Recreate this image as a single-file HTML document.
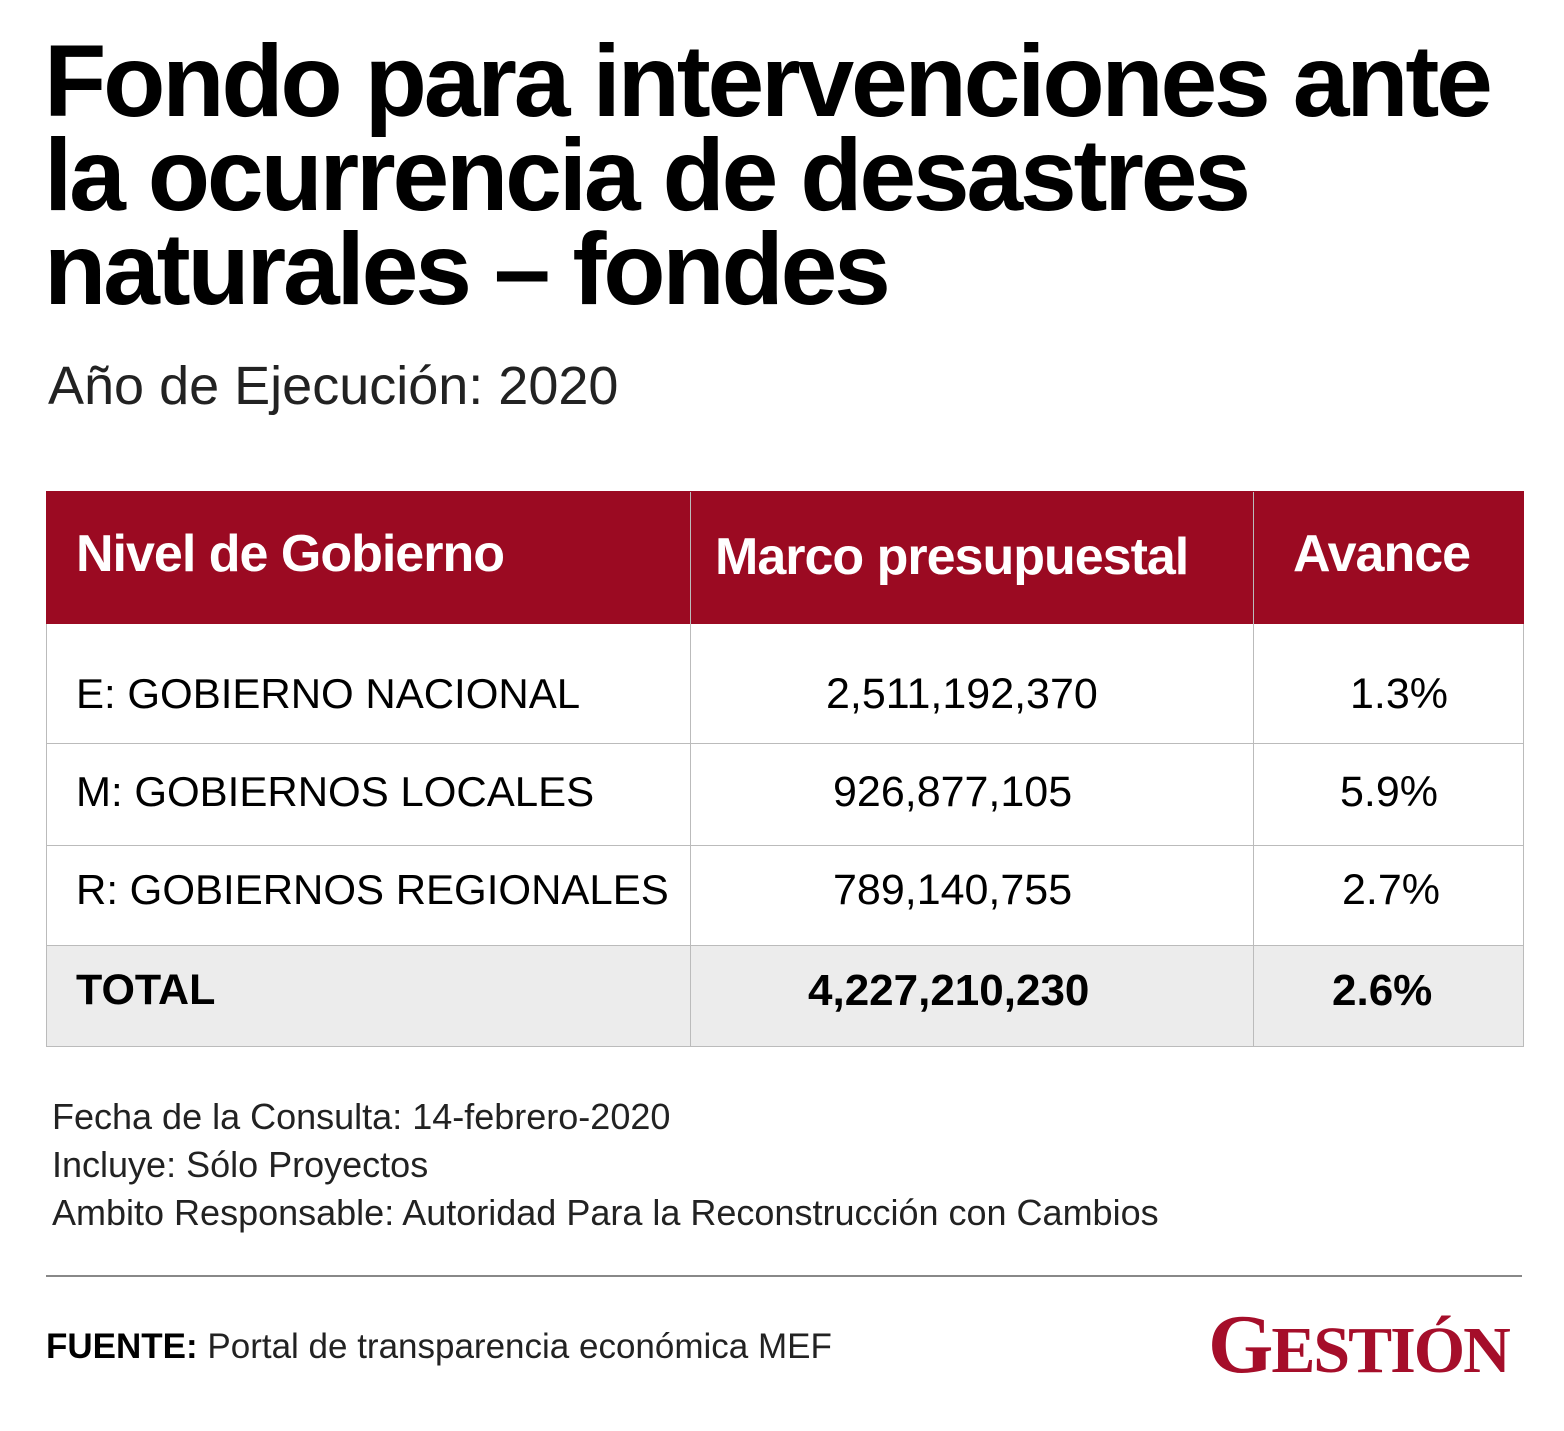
<!DOCTYPE html>
<html><head><meta charset="utf-8"><style>
body{margin:0;width:1564px;height:1431px;background:#fff;position:relative;overflow:hidden;font-family:"Liberation Sans",sans-serif;color:#000}
.a{position:absolute;white-space:nowrap}
h1{position:absolute;left:44px;top:34px;margin:0;font-family:"Liberation Sans",sans-serif;font-weight:bold;font-size:102px;line-height:94px;letter-spacing:-3.2px}
</style></head><body>
<h1>Fondo para intervenciones ante<br>la ocurrencia de desastres<br>naturales – fondes</h1>
<div class="a" style="left:48px;top:355px;font-size:54px;color:#222">Año de Ejecución: 2020</div>
<div style="position:absolute;left:46px;top:491px;width:1478px;height:556px;border:1px solid #bbb;box-sizing:border-box">
<div style="position:absolute;left:-1px;top:-1px;width:1478px;height:133px;background:#9b0a22"></div>
<div style="position:absolute;left:0;top:454px;width:1476px;height:100px;background:#ececec"></div>
<div style="position:absolute;left:0;top:251px;width:1476px;height:1px;background:#bbb"></div>
<div style="position:absolute;left:0;top:353px;width:1476px;height:1px;background:#bbb"></div>
<div style="position:absolute;left:0;top:453px;width:1476px;height:1px;background:#bbb"></div>
<div style="position:absolute;left:643px;top:0;width:1px;height:554px;background:#bbb"></div>
<div style="position:absolute;left:1206px;top:0;width:1px;height:554px;background:#bbb"></div>
</div>
<div class="a" style="left:76px;top:524px;font-size:52px;font-weight:bold;color:#fff;letter-spacing:-1px">Nivel de Gobierno</div>
<div class="a" style="left:715px;top:527px;font-size:52px;font-weight:bold;color:#fff;letter-spacing:-1px">Marco presupuestal</div>
<div class="a" style="left:1293px;top:524px;font-size:52px;font-weight:bold;color:#fff;letter-spacing:-1px">Avance</div>
<div class="a" style="left:76px;top:670px;font-size:42px">E: GOBIERNO NACIONAL</div>
<div class="a" style="left:826px;top:670px;font-size:43px">2,511,192,370</div>
<div class="a" style="left:1350px;top:670px;font-size:43px">1.3%</div>
<div class="a" style="left:76px;top:768px;font-size:42px">M: GOBIERNOS LOCALES</div>
<div class="a" style="left:833px;top:768px;font-size:43px">926,877,105</div>
<div class="a" style="left:1340px;top:768px;font-size:43px">5.9%</div>
<div class="a" style="left:76px;top:866px;font-size:42px">R: GOBIERNOS REGIONALES</div>
<div class="a" style="left:833px;top:866px;font-size:43px">789,140,755</div>
<div class="a" style="left:1342px;top:866px;font-size:43px">2.7%</div>
<div class="a" style="left:76px;top:966px;font-size:43px;font-weight:bold">TOTAL</div>
<div class="a" style="left:808px;top:966px;font-size:44px;font-weight:bold">4,227,210,230</div>
<div class="a" style="left:1332px;top:966px;font-size:44px;font-weight:bold">2.6%</div>
<div class="a" style="left:52px;top:1096px;font-size:36px;color:#222">Fecha de la Consulta: 14-febrero-2020</div>
<div class="a" style="left:52px;top:1144px;font-size:36px;color:#222">Incluye: Sólo Proyectos</div>
<div class="a" style="left:52px;top:1192px;font-size:36px;color:#222">Ambito Responsable: Autoridad Para la Reconstrucción con Cambios</div>
<div style="position:absolute;left:46px;top:1275px;width:1476px;height:2px;background:#888"></div>
<div class="a" style="left:46px;top:1327px;font-size:35px;color:#222"><b style="color:#000">FUENTE:</b> Portal de transparencia económica MEF</div>
<div class="a" style="left:1208px;top:1296px;font-family:'Liberation Serif',serif;font-weight:bold;font-size:84px;color:#a50e2a;letter-spacing:-2px">G<span style="font-size:66px">ESTIÓN</span></div>
</body></html>
